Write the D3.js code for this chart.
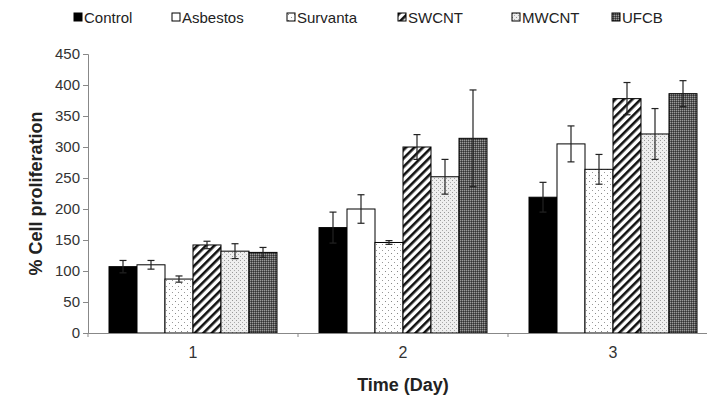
<!DOCTYPE html>
<html lang="en">
<head>
<meta charset="UTF-8">
<title>Cell proliferation</title>
<script src="https://d3js.org/d3.v7.min.js"></script>
<style>
    body { margin: 0; background: #fff; }
    * { font-family: Arial, "Liberation Sans", sans-serif; }
</style>
</head>
<body>
<div id="chart"></div>
<script>
// Data
var days = ["1", "2", "3"];
var groups = ["Control", "Asbestos", "Survanta", "SWCNT", "MWCNT", "UFCB"];
var control  = [107, 170, 219];
var asbestos = [110, 200, 305];
var survanta = [87, 146, 264];
var swcnt    = [142, 300, 378];
var mwcnt    = [132, 252, 321];
var ufcb     = [130, 314, 386];
var controlErr  = [10, 25, 24];
var asbestosErr = [7, 23, 29];
var survantaErr = [5, 3, 24];
var swcntErr    = [6, 20, 26];
var mwcntErr    = [12, 28, 41];
var ufcbErr     = [8, 78, 21];
var yTicks = [0, 50, 100, 150, 200, 250, 300, 350, 400, 450];

var values = [control, asbestos, survanta, swcnt, mwcnt, ufcb];
var errors = [controlErr, asbestosErr, survantaErr, swcntErr, mwcntErr, ufcbErr];

// flatten into rows
var rows = [];
days.forEach(function(day, i){
    groups.forEach(function(g, j){
        rows.push({day: day, group: g, value: values[j][i], err: errors[j][i]});
    });
});

var width = 707, height = 397;
// note: "top" is taken by window.top, so plotTop
var plotLeft = 88, plotTop = 54, plotBottom = 333;

var svg = d3.select("#chart").append("svg")
    .attr("width", width)
    .attr("height", height);

// patterns for the bar fills
var defs = svg.append("defs");

var pDots = defs.append("pattern").attr("id", "pSurvanta")
    .attr("patternUnits", "userSpaceOnUse").attr("width", 6).attr("height", 6);
pDots.append("rect").attr("width", 6).attr("height", 6).attr("fill", "#fff");
pDots.append("rect").attr("x", 1).attr("y", 1).attr("width", 1).attr("height", 1).attr("fill", "#888");
pDots.append("rect").attr("x", 4).attr("y", 4).attr("width", 1).attr("height", 1).attr("fill", "#999");

var pDiag = defs.append("pattern").attr("id", "pSWCNT")
    .attr("patternUnits", "userSpaceOnUse").attr("width", 6).attr("height", 6)
    .attr("patternTransform", "rotate(45)");
pDiag.append("rect").attr("width", 6).attr("height", 6).attr("fill", "#fff");
pDiag.append("rect").attr("width", 2.6).attr("height", 6).attr("fill", "#111");

var pLight = defs.append("pattern").attr("id", "pMWCNT")
    .attr("patternUnits", "userSpaceOnUse").attr("width", 4).attr("height", 4);
pLight.append("rect").attr("width", 4).attr("height", 4).attr("fill", "#eee");
pLight.append("rect").attr("x", 0).attr("y", 0).attr("width", 1).attr("height", 1).attr("fill", "#999");
pLight.append("rect").attr("x", 2).attr("y", 2).attr("width", 1).attr("height", 1).attr("fill", "#aaa");

var pDark = defs.append("pattern").attr("id", "pUFCB")
    .attr("patternUnits", "userSpaceOnUse").attr("width", 2).attr("height", 2);
pDark.append("rect").attr("width", 2).attr("height", 2).attr("fill", "#5a5a5a");
pDark.append("rect").attr("width", 1).attr("height", 1).attr("fill", "#9a9a9a");
pDark.append("rect").attr("x", 1).attr("y", 1).attr("width", 1).attr("height", 1).attr("fill", "#333");

var fills = {
    Control: "#000",
    Asbestos: "#fff",
    Survanta: "url(#pSurvanta)",
    SWCNT: "url(#pSWCNT)",
    MWCNT: "url(#pMWCNT)",
    UFCB: "url(#pUFCB)"
};

// scales
var xScale = d3.scaleBand().domain(days).range([plotLeft, plotLeft + 630]);
var xInner = d3.scaleBand().domain(groups).range([0, xScale.bandwidth()])
    .paddingInner(0).paddingOuter(0.75);
var yScale = d3.scaleLinear().domain([0, 450]).range([plotBottom, plotTop]);

// y axis
var yAxis = d3.axisLeft(yScale).tickValues(yTicks).tickSize(5).tickPadding(3);
var gy = svg.append("g")
    .attr("transform", "translate(" + plotLeft + ",0)")
    .call(yAxis);
gy.selectAll("path, line").attr("stroke", "#888");
gy.selectAll("text").attr("font-size", "15px").attr("fill", "#333");

// bars
svg.append("g").selectAll("rect")
    .data(rows)
    .enter().append("rect")
    .attr("x", function(d){ return xScale(d.day) + xInner(d.group); })
    .attr("y", function(d){ return yScale(d.value); })
    .attr("width", xInner.bandwidth())
    .attr("height", function(d){ return plotBottom - yScale(d.value); })
    .attr("fill", function(d){ return fills[d.group]; })
    .attr("stroke", "#000")
    .attr("stroke-width", 1);

// error bars
function barMid(d){ return xScale(d.day) + xInner(d.group) + xInner.bandwidth() / 2; }
var eb = svg.append("g").selectAll("g")
    .data(rows)
    .enter().append("g")
    .attr("stroke", "#222")
    .attr("stroke-width", 1.2);
eb.append("line")
    .attr("x1", barMid)
    .attr("x2", barMid)
    .attr("y1", function(d){ return yScale(d.value + d.err); })
    .attr("y2", function(d){ return yScale(d.value - d.err); });
[1, -1].forEach(function(s){
    eb.append("line")
        .attr("x1", function(d){ return barMid(d) - 3.5; })
        .attr("x2", function(d){ return barMid(d) + 3.5; })
        .attr("y1", function(d){ return yScale(d.value + s * d.err); })
        .attr("y2", function(d){ return yScale(d.value + s * d.err); });
});

// x axis
var xAxis = d3.axisBottom(xScale).tickSize(0).tickPadding(14);
var gx = svg.append("g")
    .attr("transform", "translate(0," + plotBottom + ")")
    .call(xAxis);
gx.select(".domain").attr("stroke", "#888");
gx.selectAll("text").attr("font-size", "16px").attr("fill", "#333");
// category boundary ticks
gx.selectAll(".sep")
    .data(days)
    .enter().append("line")
    .attr("class", "sep")
    .attr("x1", function(d){ return xScale(d); })
    .attr("x2", function(d){ return xScale(d); })
    .attr("y1", 0).attr("y2", 4)
    .attr("stroke", "#888");

// axis titles
svg.append("text")
    .attr("x", (plotLeft + 718) / 2)
    .attr("y", 391)
    .attr("text-anchor", "middle")
    .attr("font-size", "18px")
    .attr("font-weight", "bold")
    .attr("fill", "#222")
    .text("Time (Day)");

svg.append("text")
    .attr("transform", "translate(42," + (plotTop + plotBottom) / 2 + ") rotate(-90)")
    .attr("text-anchor", "middle")
    .attr("font-size", "18px")
    .attr("font-weight", "bold")
    .attr("fill", "#222")
    .text("% Cell proliferation");

// legend
var legendX = [74, 172, 287, 398, 512, 612];
var legend = svg.append("g").selectAll("g")
    .data(groups)
    .enter().append("g")
    .attr("transform", function(d, i){ return "translate(" + legendX[i] + ",13)"; });
legend.append("rect")
    .attr("width", 8).attr("height", 8)
    .attr("fill", function(d){ return fills[d]; })
    .attr("stroke", "#000");
legend.append("text")
    .attr("x", 10)
    .attr("y", 9.5)
    .attr("font-size", "15px")
    .attr("fill", "#222")
    .text(function(d){ return d; });
</script>
</body>
</html>
